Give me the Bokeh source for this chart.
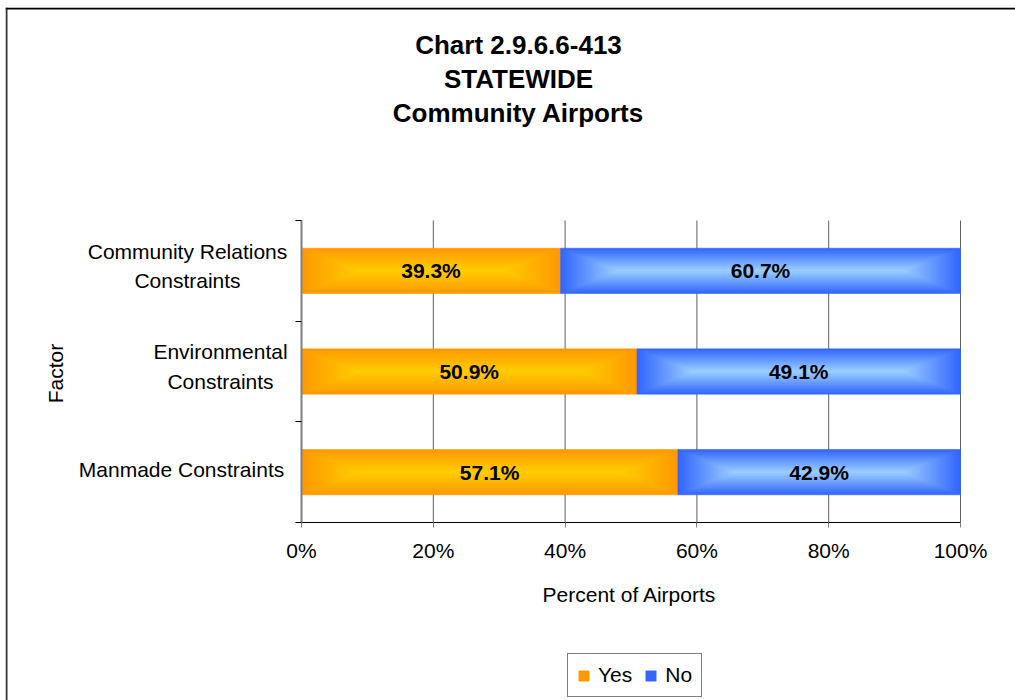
import numpy as np
from bokeh.plotting import figure
from bokeh.models import (Range1d, FixedTicker, Label, Legend, LegendItem,
                          ColumnDataSource, LinearAxis)
from bokeh.core.properties import value
from bokeh.embed import file_html
from bokeh.resources import INLINE

# ---------------- data ----------------
title_lines = ["Chart 2.9.6.6-413", "STATEWIDE", "Community Airports"]
categories = ["Manmade Constraints", "Environmental Constraints", "Community Relations Constraints"]
category_lines = [["Manmade Constraints"], ["Environmental", "Constraints"], ["Community Relations", "Constraints"]]
yes_pct = [57.1, 50.9, 39.3]
no_pct = [42.9, 49.1, 60.7]
series_names = ["Yes", "No"]
x_ticks = [0, 20, 40, 60, 80, 100]
x_tick_labels = ["0%", "20%", "40%", "60%", "80%", "100%"]
x_axis_title = "Percent of Airports"
y_axis_title = "Factor"

# ---------------- layout (page pixels) ----------------
FL, FR, FT, FB = 301, 960, 220, 522       # plot area of the chart
OX, OY = 5, 7                              # canvas origin on page
RIGHT_EDGE, BOTTOM_EDGE = 1015, 700        # canvas far corner on page
FW, FH = FR - FL, FB - FT
NCAT = len(categories)
BAR_H = 0.45
FONT = "Liberation Sans"


def dx(px):
    return (px - FL) / FW * 100.0


def dy(py):
    return (FB - py) / FH * NCAT


def hex_rgb(h):
    h = h.lstrip("#")
    return np.array([int(h[i:i + 2], 16) for i in (0, 2, 4)], dtype=float)


def gradient_layers(lefts, rights, centers, edge, center, n=30, k=2.5):
    e, c = hex_rgb(edge), hex_rgb(center)
    out = dict(left=[], right=[], bottom=[], top=[], color=[])
    for l, r, yc in zip(lefts, rights, centers):
        w_px = (r - l) * FW / 100.0
        h_px = BAR_H * FH / NCAT
        max_ix_px = min(k * h_px / 2.0, w_px / 2.0)
        for i in range(n):
            t = i / n
            ix = t * max_ix_px * 100.0 / FW
            iy = t * BAR_H / 2.0
            out["left"].append(l + ix)
            out["right"].append(r - ix)
            out["bottom"].append(yc - BAR_H / 2.0 + iy)
            out["top"].append(yc + BAR_H / 2.0 - iy)
            col = e + (c - e) * (i / (n - 1))
            out["color"].append("#%02x%02x%02x" % tuple(int(round(v)) for v in col))
    return out


p = figure(width=RIGHT_EDGE - OX, height=BOTTOM_EDGE - OY,
           min_border=0, min_border_left=0, min_border_right=0,
           min_border_top=0, min_border_bottom=0,
           x_range=Range1d(dx(OX), dx(RIGHT_EDGE)), y_range=Range1d(dy(BOTTOM_EDGE), dy(OY)),
           x_axis_location=None, y_axis_location=None,
           output_backend="svg", toolbar_location=None,
           styles={"margin-left": "%dpx" % OX, "margin-top": "%dpx" % OY,
                   "margin-bottom": "-30px"})
p.outline_line_color = None
p.background_fill_color = "white"
p.border_fill_color = "white"
p.grid.grid_line_color = None

# chart-area frame (left and top edges of the outer box)
p.segment(x0=[dx(6), dx(OX)], y0=[dy(OY), dy(8)], x1=[dx(6), dx(RIGHT_EDGE)],
          y1=[dy(BOTTOM_EDGE), dy(8)], line_color=["#333333", "#000000"], line_width=2)

# vertical gridlines
p.segment(x0=x_ticks, y0=[0] * len(x_ticks), x1=x_ticks, y1=[NCAT] * len(x_ticks),
          line_color="#606060", line_width=1)

# axes placed at the chart's zero lines
xaxis = LinearAxis(fixed_location=0, bounds=(0, 100), ticker=FixedTicker(ticks=x_ticks))
xaxis.major_label_overrides = {t: s for t, s in zip(x_ticks, x_tick_labels)}
xaxis.axis_line_color = "black"
xaxis.axis_line_width = 1
xaxis.major_tick_line_color = "#808080"
xaxis.major_tick_in = 0
xaxis.major_tick_out = 5
xaxis.minor_tick_line_color = None
xaxis.major_label_standoff = 11
xaxis.major_label_text_font = FONT
xaxis.major_label_text_font_size = "21px"
xaxis.major_label_text_color = "black"
p.add_layout(xaxis, "below")

yaxis = LinearAxis(fixed_location=0, bounds=(0, NCAT), ticker=FixedTicker(ticks=list(range(NCAT + 1))))
yaxis.major_label_text_font_size = "0px"
yaxis.axis_line_color = "#808080"
yaxis.axis_line_width = 2
yaxis.major_tick_line_color = "black"
yaxis.major_tick_in = 0
yaxis.major_tick_out = 6
yaxis.minor_tick_line_color = None
p.add_layout(yaxis, "left")

# bars
y_centers = [i + 0.5 for i in range(NCAT)]
yes_left = [0.0] * NCAT
yes_right = list(yes_pct)
no_left = list(yes_pct)
no_right = [a + b for a, b in zip(yes_pct, no_pct)]

src_yes = ColumnDataSource(gradient_layers(yes_left, yes_right, y_centers, "#FF9900", "#FFCC00"))
src_no = ColumnDataSource(gradient_layers(no_left, no_right, y_centers, "#3366FF", "#99CCFF"))
r_yes = p.quad(left="left", right="right", bottom="bottom", top="top", source=src_yes,
               fill_color="color", line_color="color", line_width=0.5)
r_no = p.quad(left="left", right="right", bottom="bottom", top="top", source=src_no,
              fill_color="color", line_color="color", line_width=0.5)

# value labels
lab_x = [v / 2.0 for v in yes_pct] + [a + b / 2.0 for a, b in zip(yes_pct, no_pct)]
lab_y = y_centers + y_centers
lab_t = ["%.1f%%" % v for v in yes_pct] + ["%.1f%%" % v for v in no_pct]
p.text(x=lab_x, y=lab_y, text=lab_t, text_font=value(FONT), text_font_style="bold",
       text_font_size="21px", text_align="center", text_baseline="middle", text_color="black")

# title
for i, line in enumerate(title_lines):
    p.add_layout(Label(x=dx(518), y=dy(44 + 34 * i), text=line, text_font=FONT,
                       text_font_style="bold", text_font_size="26px",
                       text_align="center", text_baseline="middle", text_color="black"))

# category labels
cat_center_px = [181, 220, 187]
for i, lines in enumerate(category_lines):
    n = len(lines)
    yc_px = FB - y_centers[i] * FH / NCAT - (5 if n > 1 else 2.5)
    for j, line in enumerate(lines):
        ypx = yc_px + (j - (n - 1) / 2.0) * 29.5
        p.add_layout(Label(x=dx(cat_center_px[i]), y=dy(ypx), text=line, text_font=FONT,
                           text_font_size="21px", text_align="center",
                           text_baseline="middle", text_color="black"))

# axis titles
p.add_layout(Label(x=dx(629), y=dy(594), text=x_axis_title, text_font=FONT,
                   text_font_size="21px", text_align="center", text_baseline="middle",
                   text_color="black"))
p.add_layout(Label(x=dx(55), y=dy(373), text=y_axis_title, text_font=FONT, angle=np.pi / 2,
                   text_font_size="21px", text_align="center", text_baseline="middle",
                   text_color="black"))

# legend
legend = Legend(items=[LegendItem(label=series_names[0], renderers=[r_yes], index=0),
                       LegendItem(label=series_names[1], renderers=[r_no], index=0)],
                location=(567 - OX, BOTTOM_EDGE - 697), orientation="horizontal",
                border_line_color="black", border_line_width=1,
                background_fill_color="white", background_fill_alpha=1.0,
                padding=9, spacing=12, label_standoff=8, margin=0,
                glyph_width=13, glyph_height=13, label_height=22,
                label_text_font=FONT, label_text_font_size="21px", label_text_color="black")
p.add_layout(legend)

open("out.html", "w").write(file_html(p, INLINE))
